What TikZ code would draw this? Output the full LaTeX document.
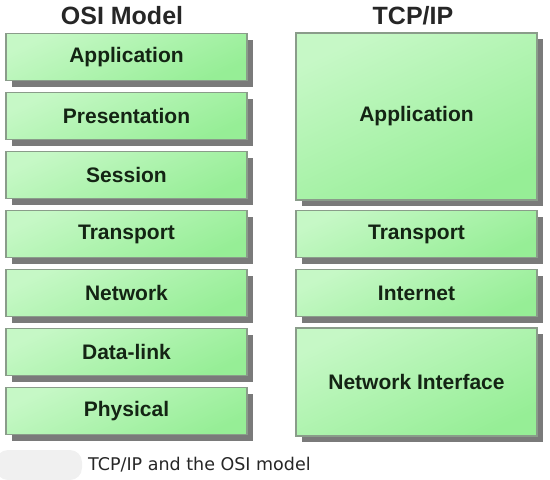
\documentclass[tikz,border=0pt]{standalone}
\usepackage{fontspec}
\setmainfont{Liberation Sans}
\newfontfamily\capfont{DejaVu Sans}
\usepackage{tikz}
\usetikzlibrary{shadows}
\definecolor{layerlight}{HTML}{C6F8C6}
\definecolor{layerdark}{HTML}{96EE96}
\definecolor{layerline}{HTML}{8A9C8A}
\definecolor{layershadow}{HTML}{7A7A7A}
\definecolor{layertext}{HTML}{142414}
\tikzset{
  layer/.style={rectangle, draw=layerline, line width=1.2pt,
    top color=layerlight, bottom color=layerdark, shading angle=25,
    minimum width=241pt, inner sep=0pt, text=layertext,
    font=\bfseries\fontsize{21}{24}\selectfont,
    drop shadow={shadow xshift=6pt, shadow yshift=-6pt, fill=layershadow, opacity=1}},
  heading/.style={font=\bfseries\fontsize{25}{29}\selectfont, text=black!85}
}
\newcommand{\layer}[5]{\node[layer, minimum height=#4 pt] (#1) at ( #2 pt , -#3 pt ) {#5};}
\begin{document}
\begin{tikzpicture}
        \useasboundingbox (0,0) rectangle (550pt,-480pt);
        \node[heading] (osititle) at (122pt,-16pt) {OSI Model};
        \node[heading] (tcptitle) at (413pt,-16pt) {TCP/IP};

        \layer{osiapp}{126.5}{57}{47}{Application}
        \layer{osipres}{126.5}{116}{47}{Presentation}
        \layer{osisess}{126.5}{175}{47}{Session}
        \layer{ositrans}{126.5}{234}{47}{Transport}
        \layer{osinet}{126.5}{293}{47}{Network}
        \layer{osidl}{126.5}{352}{47}{Data-link}
        \layer{osiphys}{126.5}{411}{47}{Physical}

        \layer{tcpapp}{416.5}{116.5}{167}{Application}
        \layer{tcptrans}{416.5}{234}{47}{Transport}
        \layer{tcpinet}{416.5}{293}{47}{Internet}
        \layer{tcpnif}{416.5}{382}{108}{Network Interface}

        \fill[black!6, rounded corners=12pt] (-4pt,-450pt) rectangle (82pt,-480pt);
        \node[anchor=west, inner sep=0pt, text=black!85, font=\capfont\fontsize{17.5}{20}\selectfont] (caption) at (88pt,-465pt) {TCP/IP and the OSI model};
\end{tikzpicture}
\end{document}
